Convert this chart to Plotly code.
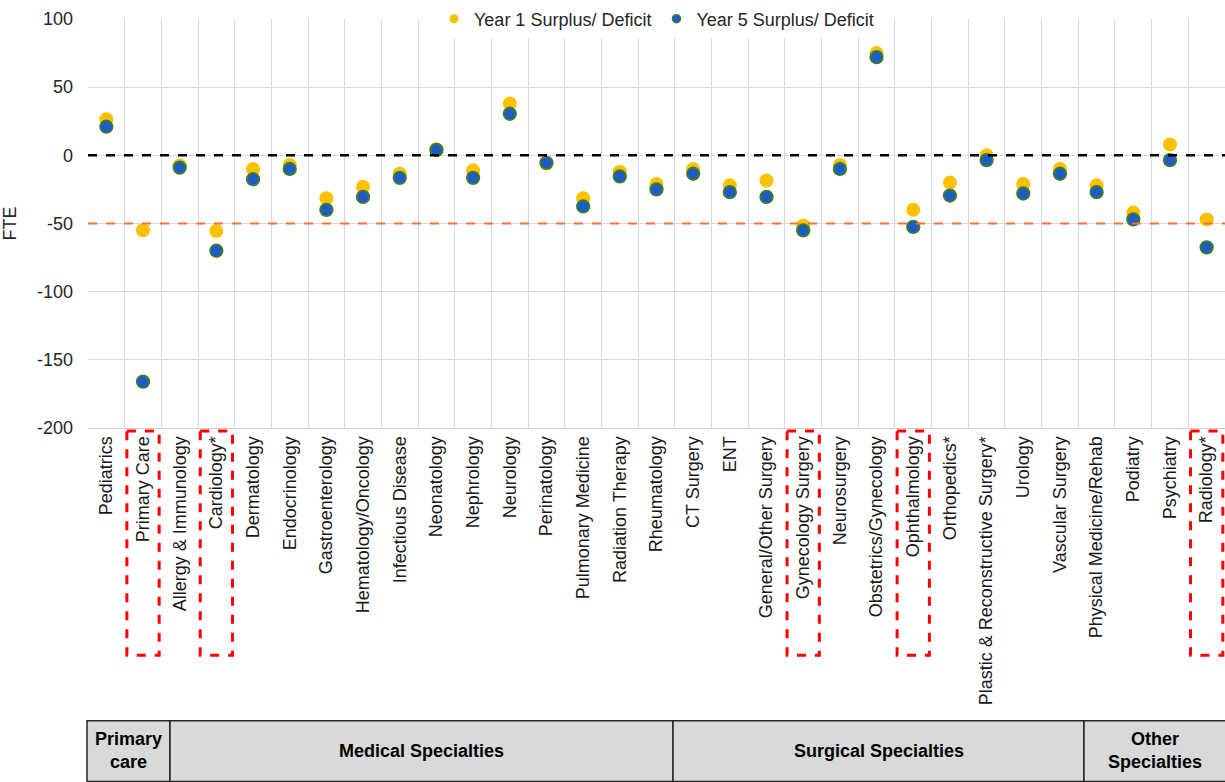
import plotly.graph_objects as go

categories = ["Pediatrics", "Primary Care", "Allergy & Immunology", "Cardiology*", "Dermatology",
              "Endocrinology", "Gastroenterology", "Hematology/Oncology", "Infectious Disease",
              "Neonatology", "Nephrology", "Neurology", "Perinatology", "Pulmonary Medicine",
              "Radiation Therapy", "Rheumatology", "CT Surgery", "ENT", "General/Other Surgery",
              "Gynecology Surgery", "Neurosurgery", "Obstetrics/Gynecology", "Ophthalmology",
              "Orthopedics*", "Plastic & Reconstructive Surgery*", "Urology", "Vascular Surgery",
              "Physical Medicine/Rehab", "Podiatry", "Psychiatry", "Radiology*"]

year1 = [26.5, -55, -7.5, -55.5, -10, -7, -31.5, -23, -13.5, 4.5, -11, 38, -6, -31.5,
         -12, -21, -10, -22, -18.5, -51.5, -7, 75, -40, -20, 0, -21, -10, -22, -42, 8, -47]
year5 = [21, -166, -9, -70, -17.5, -10, -40, -30.5, -16.5, 4, -16.5, 30.5, -5.5, -37.5,
         -15.5, -25, -13.5, -27, -30.5, -55, -10, 72, -52.5, -29.5, -3.5, -28, -13.5, -27, -47, -3.5, -67.5]

highlighted = ["Primary Care", "Cardiology*", "Gynecology Surgery", "Ophthalmology", "Radiology*"]

y_ticks = [100, 50, 0, -50, -100, -150, -200]
y_tick_labels = ["100", "50", "0", "-50", "-100", "-150", "-200"]

groups = ["Primary\ncare", "Medical Specialties", "Surgical Specialties", "Other\nSpecialties"]
group_px = [(87, 170), (170, 673), (673, 1084), (1084, 1226)]

W, H = 1225, 782
L, R, T, B = 88, 0, 16, 354
pw, ph = W - L - R, H - T - B

def px_to_paper_x(px):
    return (px - L) / pw

def px_to_paper_y(py):
    return (H - B - py) / ph

FONT = "Arial, Liberation Sans, sans-serif"

fig = go.Figure()
fig.add_trace(go.Scatter(x=categories, y=year1, mode="markers", name="Year 1 Surplus/ Deficit",
                         marker=dict(size=14, color="#FFC000", line=dict(width=0)), showlegend=False))
fig.add_trace(go.Scatter(x=categories, y=year5, mode="markers", name="Year 5 Surplus/ Deficit",
                         marker=dict(size=12.5, color="#1F5BC6", line=dict(width=1.8, color="#3D7F28")),
                         showlegend=False))
# legend entries
fig.add_trace(go.Scatter(x=[None], y=[None], mode="markers", name="Year 1 Surplus/ Deficit",
                         marker=dict(size=9, color="#FFC000")))
fig.add_trace(go.Scatter(x=[None], y=[None], mode="markers", name="Year 5 Surplus/ Deficit",
                         marker=dict(size=8, color="#1F5BC6", line=dict(width=1.5, color="#3D7F28"))))

shapes = []
shapes.append(dict(type="line", xref="paper", yref="y", x0=0, x1=1, y0=0, y1=0,
                   line=dict(color="black", width=2.5, dash="dash")))
shapes.append(dict(type="line", xref="paper", yref="y", x0=0, x1=1, y0=-50, y1=-50,
                   line=dict(color="#FF7033", width=2, dash="dash")))
for c in highlighted:
    i = categories.index(c)
    shapes.append(dict(type="rect", xref="x", yref="paper", x0=i - 0.44, x1=i + 0.44,
                       y0=px_to_paper_y(431), y1=px_to_paper_y(657),
                       line=dict(color="#FF0000", width=3, dash="dash"), fillcolor="rgba(0,0,0,0)"))
annotations = []
for g, (a, b) in zip(groups, group_px):
    shapes.append(dict(type="rect", xref="paper", yref="paper",
                       x0=px_to_paper_x(a), x1=px_to_paper_x(b),
                       y0=px_to_paper_y(723), y1=px_to_paper_y(784),
                       line=dict(color="#262626", width=1.5), fillcolor="#D9D9D9", layer="below"))
    annotations.append(dict(xref="paper", yref="paper", x=px_to_paper_x((a + b) / 2),
                            y=px_to_paper_y(753), text=g.replace("\n", "<br>"), showarrow=False,
                            font=dict(family=FONT, size=18, color="black", weight="bold"),
                            xanchor="center", yanchor="middle"))

fig.update_layout(
    width=W, height=H,
    margin=dict(l=L, r=R, t=T, b=B),
    paper_bgcolor="white", plot_bgcolor="white",
    font=dict(family=FONT, size=18, color="#262626"),
    shapes=shapes, annotations=annotations,
    legend=dict(orientation="h", x=0.5, xanchor="center", y=1.0, yanchor="middle",
                bgcolor="white", font=dict(size=18, color="#262626"), itemwidth=30,
                tracegroupgap=0),
    xaxis=dict(type="category", categoryorder="array", categoryarray=categories,
               tickson="boundaries", showgrid=True, gridcolor="#D9D9D9", gridwidth=1,
               tickangle=-90, ticks="", showline=True, linecolor="#D0D0D0", linewidth=1,
               tickfont=dict(size=18, color="#1a1a1a"), range=[-0.5, len(categories) - 0.5],
               fixedrange=True),
    yaxis=dict(range=[-200, 100], tickvals=y_ticks, ticktext=y_tick_labels,
               showgrid=True, gridcolor="#D9D9D9", gridwidth=1,
               zeroline=False, ticks="", tickfont=dict(size=18, color="#262626"),
               ticklabelstandoff=14,
               title=dict(text="FTE", font=dict(size=18, color="#262626"), standoff=16)),
    showlegend=True,
)

fig.write_html("out.html", config={"displayModeBar": False},
               post_script="document.body.style.margin='0';document.body.style.overflow='hidden';")
